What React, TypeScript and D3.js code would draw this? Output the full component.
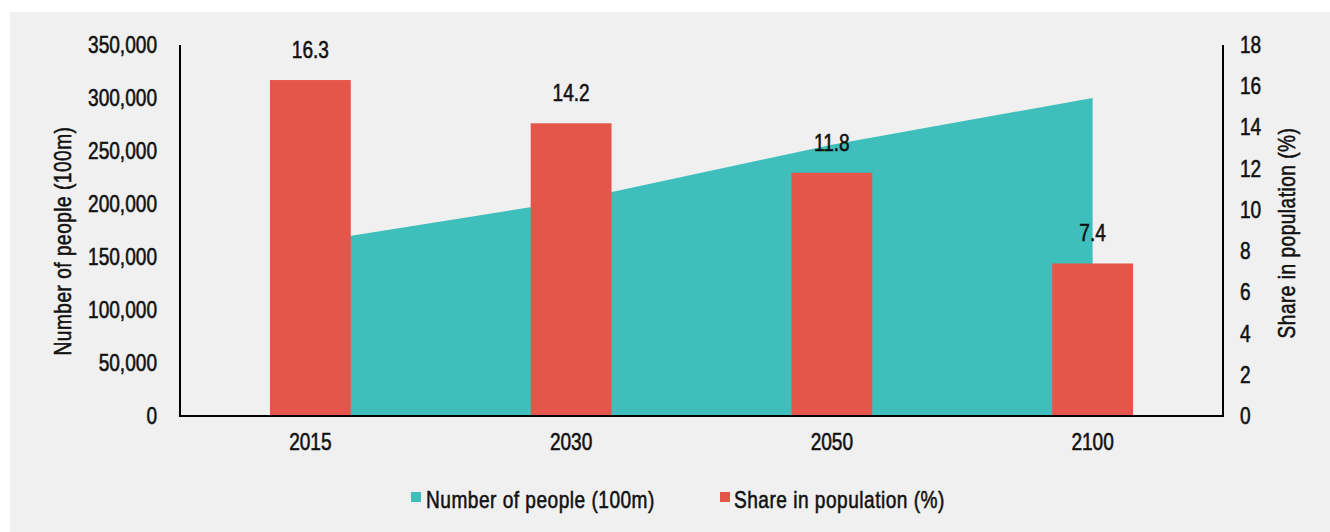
import React from "react";
import * as d3 from "d3";

const years = ["2015", "2030", "2050", "2100"];
const peopleValues = [164000, 203000, 256000, 300000];
const shareValues = [16.3, 14.2, 11.8, 7.4];
const leftTicks = [0, 50000, 100000, 150000, 200000, 250000, 300000, 350000];
const rightTicks = [0, 2, 4, 6, 8, 10, 12, 14, 16, 18];
const seriesNames = ["Number of people (100m)", "Share in population (%)"];

const W = 1330;
const H = 532;
const FONT = "'Liberation Sans', Arial, sans-serif";
const SX = 0.83;
const FS = 23;
const TEAL = "#3fbfbb";
const RED = "#e4564a";
const BG = "#f0f0f0";
const INK = "#111";

function T({
  x,
  y,
  anchor = "start",
  rotate = 0,
  spacing = 0,
  children,
}: {
  x: number;
  y: number;
  anchor?: "start" | "middle" | "end";
  rotate?: number;
  spacing?: number;
  children: React.ReactNode;
}) {
  return (
    <text
      transform={`translate(${x},${y}) rotate(${rotate}) scale(${SX},1)`}
      textAnchor={anchor}
      fontSize={FS}
      fill={INK}
      stroke={INK}
      strokeWidth={0.55}
      letterSpacing={spacing}
      fontFamily={FONT}
    >
      {children}
    </text>
  );
}

export default function App() {
  const left = 180, right = 1223, top = 45, bottom = 416;
  const x = d3.scaleBand<string>().domain(years).range([left, right]).paddingInner(0).paddingOuter(0);
  const yL = d3.scaleLinear().domain([0, 350000]).range([bottom, top]);
  const yR = d3.scaleLinear().domain([0, 18]).range([bottom, top]);
  const barW = x.bandwidth() * 0.31;
  const cx = (y: string) => (x(y) as number) + x.bandwidth() / 2;

  const areaGen = d3
    .area<number>()
    .x((_, i) => cx(years[i]))
    .y0(yL(0))
    .y1((d) => yL(d));
  const fmt = d3.format(",");

  return (
    <svg width={W} height={H} style={{ position: "absolute", left: 0, top: 0, display: "block" }}>
      <rect x={0} y={0} width={W} height={H} fill="#ffffff" />
      <rect x={10} y={12} width={W - 10} height={H - 12} fill={BG} />

      <path d={areaGen(peopleValues) || ""} fill={TEAL} />

      {years.map((yr, i) => (
        <g key={yr}>
          <rect
            x={cx(yr) - barW / 2}
            y={yR(shareValues[i])}
            width={barW}
            height={yR(0) - yR(shareValues[i])}
            fill={RED}
          />
          <T x={cx(yr)} y={yR(shareValues[i]) - 22} anchor="middle">
            {shareValues[i].toFixed(1)}
          </T>
          <T x={cx(yr)} y={bottom + 34} anchor="middle">
            {yr}
          </T>
        </g>
      ))}

      <line x1={left} x2={left} y1={top} y2={bottom + 1} stroke="#000" strokeWidth={2} />
      <line x1={right} x2={right} y1={top} y2={bottom + 1} stroke="#000" strokeWidth={2} />
      <line x1={left - 1} x2={right + 1} y1={bottom} y2={bottom} stroke="#000" strokeWidth={2} />

      {leftTicks.map((t) => (
        <T key={"l" + t} x={157} y={yL(t) + 8} anchor="end">
          {fmt(t)}
        </T>
      ))}
      {rightTicks.map((t) => (
        <T key={"r" + t} x={1240} y={yR(t) + 8}>
          {t}
        </T>
      ))}

      <T x={71} y={241} anchor="middle" rotate={-90} spacing={0.6}>
        {seriesNames[0]}
      </T>
      <T x={1295} y={233} anchor="middle" rotate={-90} spacing={0.6}>
        {seriesNames[1]}
      </T>

      <rect x={411} y={492} width={10} height={10} fill={TEAL} />
      <T x={426} y={508} spacing={0.6}>{seriesNames[0]}</T>
      <rect x={720} y={492} width={10} height={10} fill={RED} />
      <T x={734} y={508} spacing={0.6}>{seriesNames[1]}</T>
    </svg>
  );
}
